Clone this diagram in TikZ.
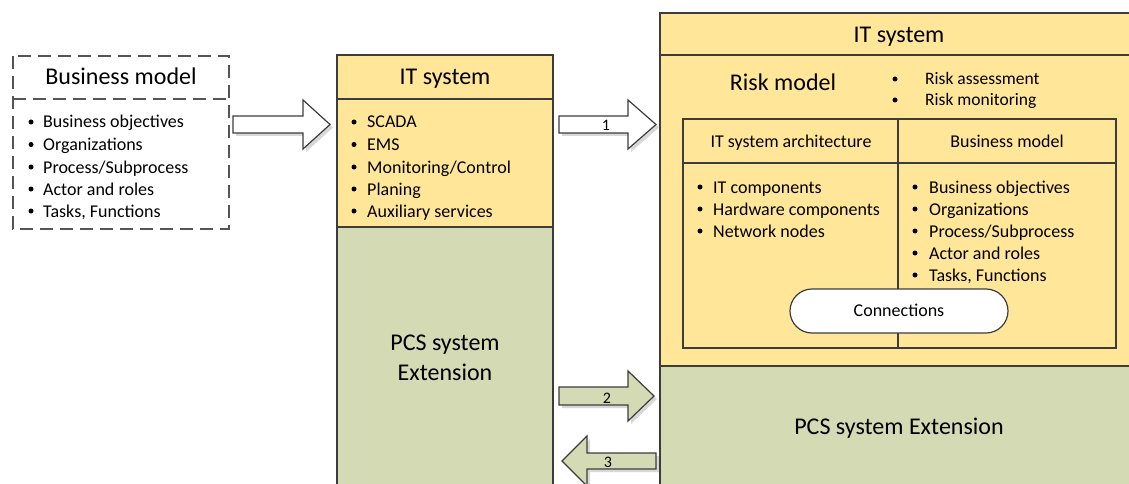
\documentclass[tikz,border=0pt]{standalone}
\usepackage{fontspec}
\setmainfont{Carlito}
\usetikzlibrary{shadows,shapes.misc}
\definecolor{boxyellow}{HTML}{FFE699}
\definecolor{boxgreen}{HTML}{D4DBB4}
\definecolor{edge}{HTML}{3C3C3C}
\definecolor{dashgray}{HTML}{555555}

\begin{document}
\begin{tikzpicture}[x=1pt,y=-1pt,
  frame/.style={draw=edge, line width=1.2pt},
  title/.style={font=\fontsize{24}{28}\selectfont, inner sep=0pt, anchor=base},
  head/.style={font=\fontsize{18}{22}\selectfont, inner sep=0pt, anchor=base},
  item/.style={font=\fontsize{18}{22}\selectfont, inner sep=0pt, anchor=base west},
  dot/.style={circle, fill=black, inner sep=0pt, minimum size=5pt, yshift=6pt},
  blockarrow/.style={draw=edge, line width=1.2pt, line join=miter,
    drop shadow={shadow xshift=3pt, shadow yshift=-3pt, opacity=0.3, fill=gray}},
  num/.style={font=\fontsize{16}{18}\selectfont, inner sep=0pt, anchor=base}
]
\clip (0,0) rectangle (1129,484);
\fill[white] (0,0) rectangle (1129,484);

% ---------- Business model (dashed) ----------
\draw[dashgray, line width=1.8pt, dash pattern=on 13pt off 7pt]
  (13,56) rectangle (229,229) (13,99) -- (229,99);
\node[title] (bm) at (121,85) {Business model};
\foreach \txt/\yy [count=\i] in {{Business objectives}/128, {Organizations}/150.5,
    {Process/Subprocess}/173, {Actor and roles}/195, {Tasks, Functions}/217}{
  \node[dot] (bmd\i) at (31,\yy) {};
  \node[item] (bmi\i) at (43,\yy) {\txt};
}

% ---------- IT system / PCS column ----------
\filldraw[frame, fill=boxgreen] (337,227) rectangle (553,500);
\filldraw[frame, fill=boxyellow] (337,55) rectangle (553,227);
\draw[frame] (337,99) -- (553,99);
\node[title] (its) at (445,85) {IT system};
\foreach \txt/\yy [count=\i] in {{SCADA}/128, {EMS}/150.5, {Monitoring/Control}/173,
    {Planing}/195, {Auxiliary services}/217}{
  \node[dot] (itd\i) at (354,\yy) {};
  \node[item] (iti\i) at (367,\yy) {\txt};
}
\node[title] (pcs1) at (445,350) {PCS system};
\node[title] (pcs2) at (445,380) {Extension};

% ---------- extended IT system ----------
\filldraw[frame, fill=boxgreen] (660,366) rectangle (1140,500);
\filldraw[frame, fill=boxyellow] (660,13) rectangle (1140,366);
\draw[frame] (660,55) -- (1140,55);
\node[title] (itx) at (899,42.5) {IT system};
\node[title] (risk) at (783,90.5) {Risk model};
\foreach \txt/\yy [count=\i] in {{Risk assessment}/85, {Risk monitoring}/106}{
  \node[dot] (rkd\i) at (895,\yy) {};
  \node[item, font=\fontsize{17.5}{20}\selectfont] (rki\i) at (925,\yy) {\txt};
}

% inner table
\draw[frame] (683,119) rectangle (1116,348);
\draw[frame] (683,163) -- (1116,163) (898,119) -- (898,348);
\node[head] (arch) at (791,147.3) {IT system architecture};
\node[head] (bmx) at (1007,147.3) {Business model};
\foreach \txt/\yy [count=\i] in {{IT components}/193, {Hardware components}/215,
    {Network nodes}/237}{
  \node[dot] (ard\i) at (700,\yy) {};
  \node[item] (ari\i) at (713,\yy) {\txt};
}
\foreach \txt/\yy [count=\i] in {{Business objectives}/193, {Organizations}/215,
    {Process/Subprocess}/237, {Actor and roles}/259, {Tasks, Functions}/281}{
  \node[dot] (bxd\i) at (915,\yy) {};
  \node[item] (bxi\i) at (929,\yy) {\txt};
}
\node[frame, fill=white, rounded rectangle, minimum width=218pt,
  minimum height=44pt, inner sep=0pt] (conn) at (899,311) {};
\node[head] (connt) at (899,316.7) {Connections};

% ---------- block arrows ----------
\filldraw[blockarrow, fill=white]
  (233,116) -- (303,116) -- (303,100) -- (330,124.5) -- (303,149)
  -- (303,133) -- (233,133) -- cycle;
\filldraw[blockarrow, fill=white]
  (559,116) -- (628,116) -- (628,100) -- (656,124.5) -- (628,149)
  -- (628,133) -- (559,133) -- cycle;
\node[num] (n1) at (606,130.7) {1};
\filldraw[blockarrow, fill=boxgreen]
  (559,387) -- (628,387) -- (628,371) -- (654,396) -- (628,421)
  -- (628,405) -- (559,405) -- cycle;
\node[num] (n2) at (607,403) {2};
\filldraw[blockarrow, fill=boxgreen]
  (656,453) -- (587,453) -- (587,436) -- (562,461) -- (587,486)
  -- (587,469) -- (656,469) -- cycle;
\node[num] (n3) at (608,467) {3};

% right-hand PCS label
\node[title] (pcs3) at (899,434) {PCS system Extension};
\end{tikzpicture}
\end{document}
